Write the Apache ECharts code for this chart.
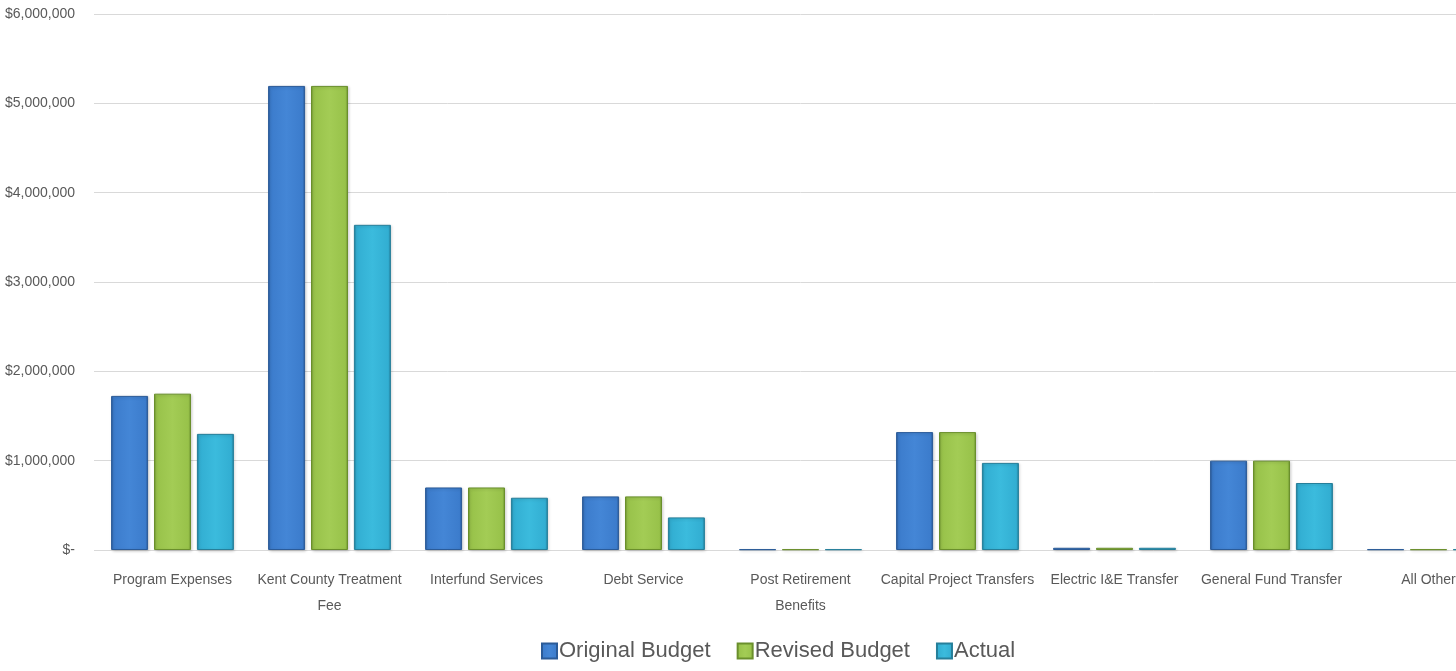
<!DOCTYPE html>
<html>
<head>
<meta charset="utf-8">
<script src="https://cdn.jsdelivr.net/npm/echarts@6/dist/echarts.min.js"></script>
<style>
html,body{margin:0;padding:0;background:#fff;overflow:hidden;width:1456px;height:671px;}
#chart{width:1507px;height:671px;}
</style>
</head>
<body>
<div id="chart"></div>
<script>
const categories = ["Program Expenses", "Kent County Treatment\nFee", "Interfund Services", "Debt Service", "Post Retirement\nBenefits", "Capital Project Transfers", "Electric I&E Transfer", "General Fund Transfer", "All Other"];
const originalBudget = [1725000, 5195000, 700000, 600000, 8000, 1320000, 25000, 1000000, 8000];
const revisedBudget  = [1750000, 5195000, 700000, 600000, 8000, 1320000, 25000, 1000000, 8000];
const actual         = [1300000, 3640000, 585000, 365000, 8000, 975000, 25000, 750000, 8000];
const yTicks = [0, 1000000, 2000000, 3000000, 4000000, 5000000, 6000000];

function grad(edge, main, light) {
  return new echarts.graphic.LinearGradient(0, 0, 1, 0, [
    {offset: 0, color: edge},
    {offset: 0.07, color: main},
    {offset: 0.5, color: light},
    {offset: 0.93, color: main},
    {offset: 1, color: edge}
  ]);
}
const font = '"Liberation Sans", sans-serif';

const chart = echarts.init(document.getElementById('chart'), null, {renderer: 'canvas'});
function bar(name, data, edge, main, light, border) {
  return {
    name, type: 'bar', data,
    barWidth: 37, barGap: '16%',
    itemStyle: {color: grad(edge, main, light), borderColor: border, borderWidth: 1,
      shadowColor: 'rgba(0,0,0,0.18)', shadowBlur: 3, shadowOffsetX: 1, shadowOffsetY: 1},
    emphasis: {disabled: true}
  };
}
chart.setOption({
  animation: false,
  grid: {left: 94, top: 14, right: 0, bottom: 121, containLabel: false},
  legend: {
    bottom: 4, left: 536,
    icon: 'rect',
    itemWidth: 15, itemHeight: 15, itemGap: 26,
    textStyle: {fontFamily: font, fontSize: 22, color: '#595959', padding: [0, 0, 0, -3]},
    data: ['Original Budget', 'Revised Budget', 'Actual']
  },
  xAxis: {
    type: 'category', data: categories,
    axisLine: {show: false}, axisTick: {show: false},
    axisLabel: {
      interval: 0, margin: 17, color: '#595959', fontFamily: font, fontSize: 14, lineHeight: 26
    }
  },
  yAxis: {
    type: 'value', min: yTicks[0], max: yTicks[yTicks.length - 1], interval: 1000000,
    axisLine: {show: false}, axisTick: {show: false},
    splitLine: {lineStyle: {color: '#d9d9d9', width: 1}},
    axisLabel: {
      margin: 19, color: '#595959', fontFamily: font, fontSize: 14,
      formatter: v => v === 0 ? '$-' : '$' + v.toLocaleString('en-US')
    }
  },
  series: [
    bar('Original Budget', originalBudget, '#2a5a9a', '#3c7ccc', '#4486d6', '#2b5b98'),
    bar('Revised Budget', revisedBudget, '#6f9530', '#98c24a', '#a3cc55', '#6a8f2c'),
    bar('Actual', actual, '#23809c', '#32aed2', '#3bbbdd', '#267f9a')
  ]
});
</script>
</body>
</html>
